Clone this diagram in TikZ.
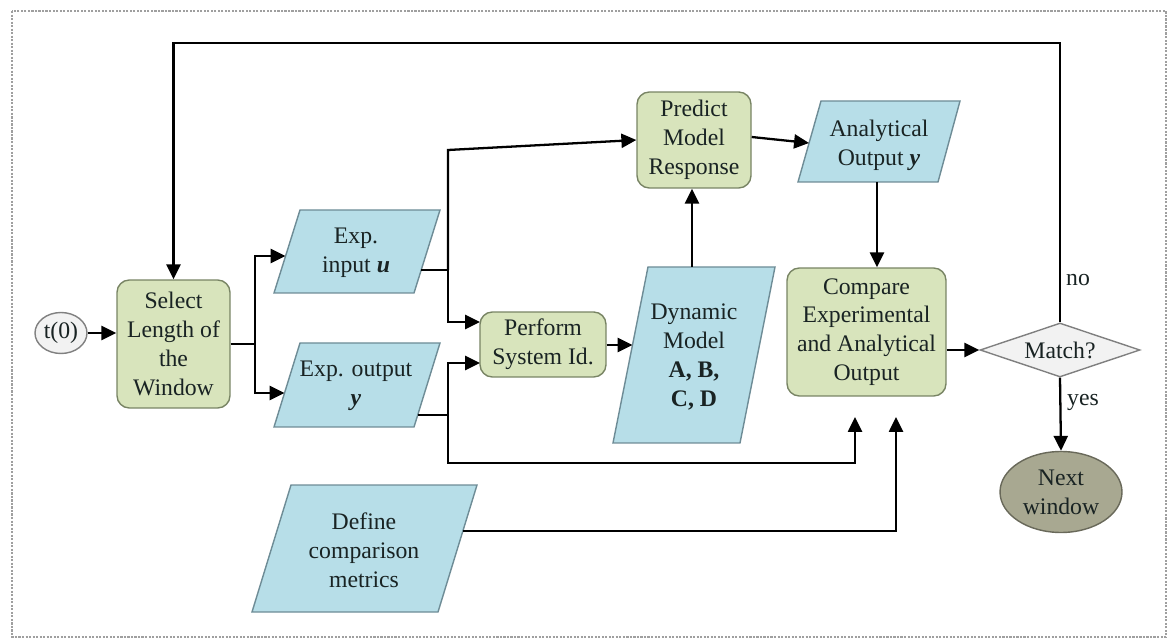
\documentclass[tikz,border=0pt]{standalone}
\usepackage{fontspec}
\setmainfont{Liberation Serif}
\usetikzlibrary{shapes.geometric,arrows.meta,calc}
\definecolor{gfill}{RGB}{216,228,188}
\definecolor{gborder}{RGB}{120,132,100}
\definecolor{bfill}{RGB}{183,222,232}
\definecolor{bborder}{RGB}{110,140,150}
\definecolor{dfill}{RGB}{242,242,242}
\definecolor{nfill}{RGB}{168,168,145}
\definecolor{nborder}{RGB}{105,105,90}
\definecolor{txtc}{RGB}{25,35,35}
\begin{document}
\begin{tikzpicture}[x=0.02cm,y=-0.02cm,
  font=\fontsize{13.5}{16.4}\selectfont,
  txt/.style={align=center, text=txtc, inner sep=0pt},
  gbox/.style={draw=gborder, fill=gfill, line width=0.8pt, rounded corners=7pt,
    align=center, text=txtc, inner sep=2pt},
  pbox/.style={draw=bborder, fill=bfill, line width=0.8pt},
  arr/.style={line width=1.3pt, -{Triangle[length=8.5pt,width=8pt]}},
  ln/.style={line width=1.3pt},
  lbl/.style={text=txtc, inner sep=0pt},
]
\useasboundingbox (0,0) rectangle (1169,641);
\draw[gray!75, line width=1.2pt, dash pattern=on 1.2pt off 0.8pt] (12,11) rectangle (1166,637);

% rounded process boxes
\node[gbox, minimum width=2.26cm, minimum height=2.56cm] (select) at (173.5,344) {Select\\Length of\\the\\Window};
\node[gbox, minimum width=2.52cm, minimum height=1.30cm] (perform) at (543,344.5) {Perform\\System Id.};
\node[gbox, minimum width=2.28cm, minimum height=1.92cm] (predict) at (694,140) {Predict\\Model\\Response};
\node[gbox, minimum width=3.18cm, minimum height=2.56cm] (compare) at (866.5,332) {Compare\\Experimental\\and Analytical\\Output};

% start / end / decision
\node[ellipse, draw=gray, fill=dfill, line width=0.8pt, minimum width=1.04cm, minimum height=0.82cm, inner sep=0pt, text=txtc] (t0) at (61,333) {t(0)};
\node[diamond, draw=gray, fill=dfill, line width=0.8pt, shape aspect=2.96, minimum width=3.2cm, minimum height=1.08cm, inner sep=0pt, text=txtc] (match) at (1060,350) {Match?};
\node[ellipse, draw=nborder, fill=nfill, line width=0.8pt, minimum width=2.44cm, minimum height=1.62cm, inner sep=0pt, align=center, text=txtc] (next) at (1061,492) {Next\\window};

% parallelograms (data)
\path[pbox] (300,210) -- (440,210) -- (414,293) -- (274,293) -- cycle;
\node[txt] (expin) at (356,253) {Exp.\\input \textbf{\textit{u}}};
\path[pbox] (300,343) -- (440,343) -- (414,427) -- (274,427) -- cycle;
\node[txt] (expout) at (356,386) {Exp. output\\\textbf{\textit{y}}};
\path[pbox] (648,267) -- (775,267) -- (740,443) -- (613,443) -- cycle;
\node[txt] (dyn) at (694,357) {Dynamic\\Model\\\textbf{A, B,}\\\textbf{C, D}};
\path[pbox] (821,101) -- (960,101) -- (938,182) -- (798,182) -- cycle;
\node[txt] (anout) at (879,145) {Analytical\\Output \textbf{\textit{y}}};
\path[pbox] (291,485) -- (477,485) -- (438,612) -- (252,612) -- cycle;
\node[txt] (define) at (364,550) {Define\\comparison\\metrics};

% edge points
\coordinate (expinL) at (285.5,256);
\coordinate (expinR) at (421,270);
\coordinate (expoutL) at (284.5,393);
\coordinate (expoutR) at (418,415);
\coordinate (dynL) at (632.5,345);
\coordinate (dynT) at (692,267);
\coordinate (anL) at (809,143);
\coordinate (anB) at (877,182);
\coordinate (defR) at (463,531);
\coordinate (perfIn1) at (480,322);
\coordinate (perfIn2) at (480,363);
\coordinate (cmpIn1) at (855,417);
\coordinate (cmpIn2) at (896,417);
\coordinate (brA) at (255,344);
\coordinate (brB) at (448,270);
\coordinate (brC) at (448,415);

% connectors
\draw[arr] (t0.east) -- (select.west |- t0.east);
\draw[ln] (select.east) -- (brA);
\draw[arr] (brA) |- (expinL);
\draw[arr] (brA) |- (expoutL);
\draw[ln] (expinR) -- (brB);
\draw[arr] (brB) -- (448,150) -- (predict.west);
\draw[arr] (brB) |- (perfIn1);
\draw[ln] (expoutR) -- (brC);
\draw[arr] (brC) |- (perfIn2);
\draw[arr] (brC) -- (448,463) -| (cmpIn1);
\draw[arr] (defR) -| (cmpIn2);
\draw[arr] (perform.east |- dynL) -- (dynL);
\draw[arr] (dynT) -- (predict.south -| dynT);
\draw[arr] (predict.east |- 0,137) -- (anL);
\draw[arr] (anB) -- (compare.north -| anB);
\draw[arr] (compare.east |- match.west) -- (match.west);
\draw[arr] (match.north) -- (1060,43) -| (select.north);
\draw[arr] (match.south) -- (next.north);
\node[lbl] (no) at (1078,280) {no};
\node[lbl] (yes) at (1083,402) {yes};
\end{tikzpicture}
\end{document}
